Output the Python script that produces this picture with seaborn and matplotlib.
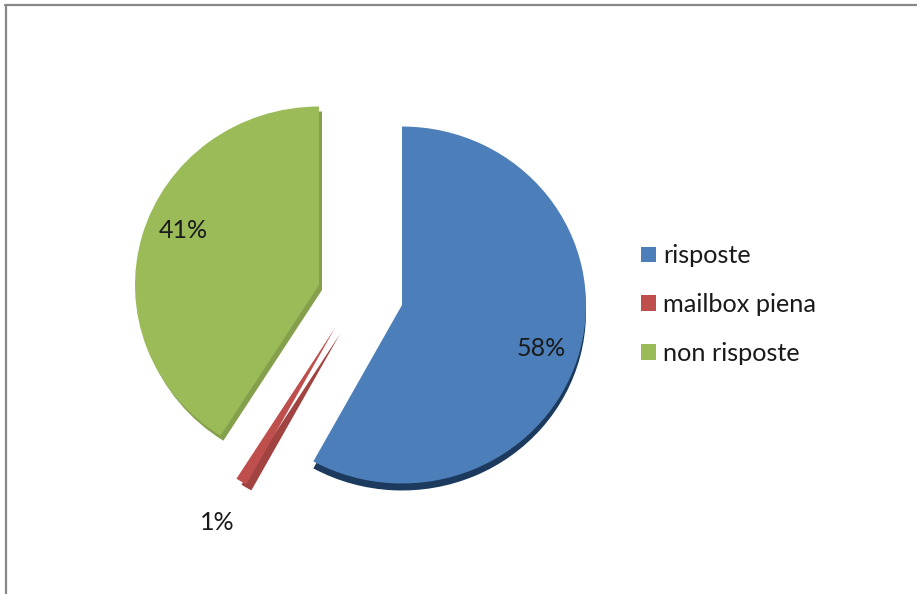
import matplotlib
matplotlib.use("Agg")
import matplotlib.pyplot as plt
from matplotlib.lines import Line2D
import seaborn as sns

categories = ["risposte", "mailbox piena", "non risposte"]
values = [58, 1, 41]
pct_labels = ["58%", "1%", "41%"]
top_colors = ["#4C7EB9", "#BE4F4C", "#9BBB59"]
side_colors = ["#1B3A5E", "#A04341", "#84A04C"]

sns.set_theme(style="white")
plt.rcParams["font.family"] = ["Lato", "DejaVu Sans"]

W, H = 917, 594
R = 184.0
S = 0.97
CX, CY = 360.0, 296.0

fig = plt.figure(figsize=(W / 100, H / 100), dpi=100, facecolor="white")
ax = fig.add_axes([0, 0, 1, 1])

# pull-out of each slice from the common centre, in pixels (x right, y up)
pull_px = [(42, -9), (-25, -32), (-41, 11)]
# direction of the visible side face of each slice, in pixels
side_px = [(0, -7), (5, -6), (3, -5)]

side_wedges, _ = ax.pie(values, colors=side_colors, startangle=90, counterclock=False,
                        radius=1.0, wedgeprops=dict(linewidth=0))
wedges, _ = ax.pie(values, colors=top_colors, startangle=90, counterclock=False,
                   radius=1.0, wedgeprops=dict(linewidth=0))
for w, sw, (px, py), (sx, sy) in zip(wedges, side_wedges, pull_px, side_px):
    w.set_center((px / R, py / (R * S)))
    sw.set_center(((px + sx) / R, (py + sy) / (R * S)))

ax.set_aspect("auto")
ax.set_xlim(-CX / R, (W - CX) / R)
ax.set_ylim((CY - H) / (R * S), CY / (R * S))
ax.axis("off")

label_px = [(541, 348), (217, 522), (183, 230)]
for s, (px, py) in zip(pct_labels, label_px):
    fig.text(px / W, 1 - py / H, s, ha="center", va="center", fontsize=18, color="#1a1a1a")

fig.legend(wedges, categories, loc="center left", bbox_to_anchor=(641 / W, 1 - 304.5 / H),
           frameon=False, fontsize=18.2, handlelength=0.59, handleheight=0.59, handletextpad=0.28,
           labelspacing=1.01, labelcolor="#1a1a1a", borderpad=0, borderaxespad=0)

fig.add_artist(Line2D([5.5 / W, 5.5 / W], [0, 1 - 5 / H], color="#888888", lw=1.6,
                      transform=fig.transFigure))
fig.add_artist(Line2D([5 / W, 1], [1 - 5 / H, 1 - 5 / H], color="#888888", lw=1.6,
                      transform=fig.transFigure))

fig.savefig("out.png", dpi=100, facecolor="white")
